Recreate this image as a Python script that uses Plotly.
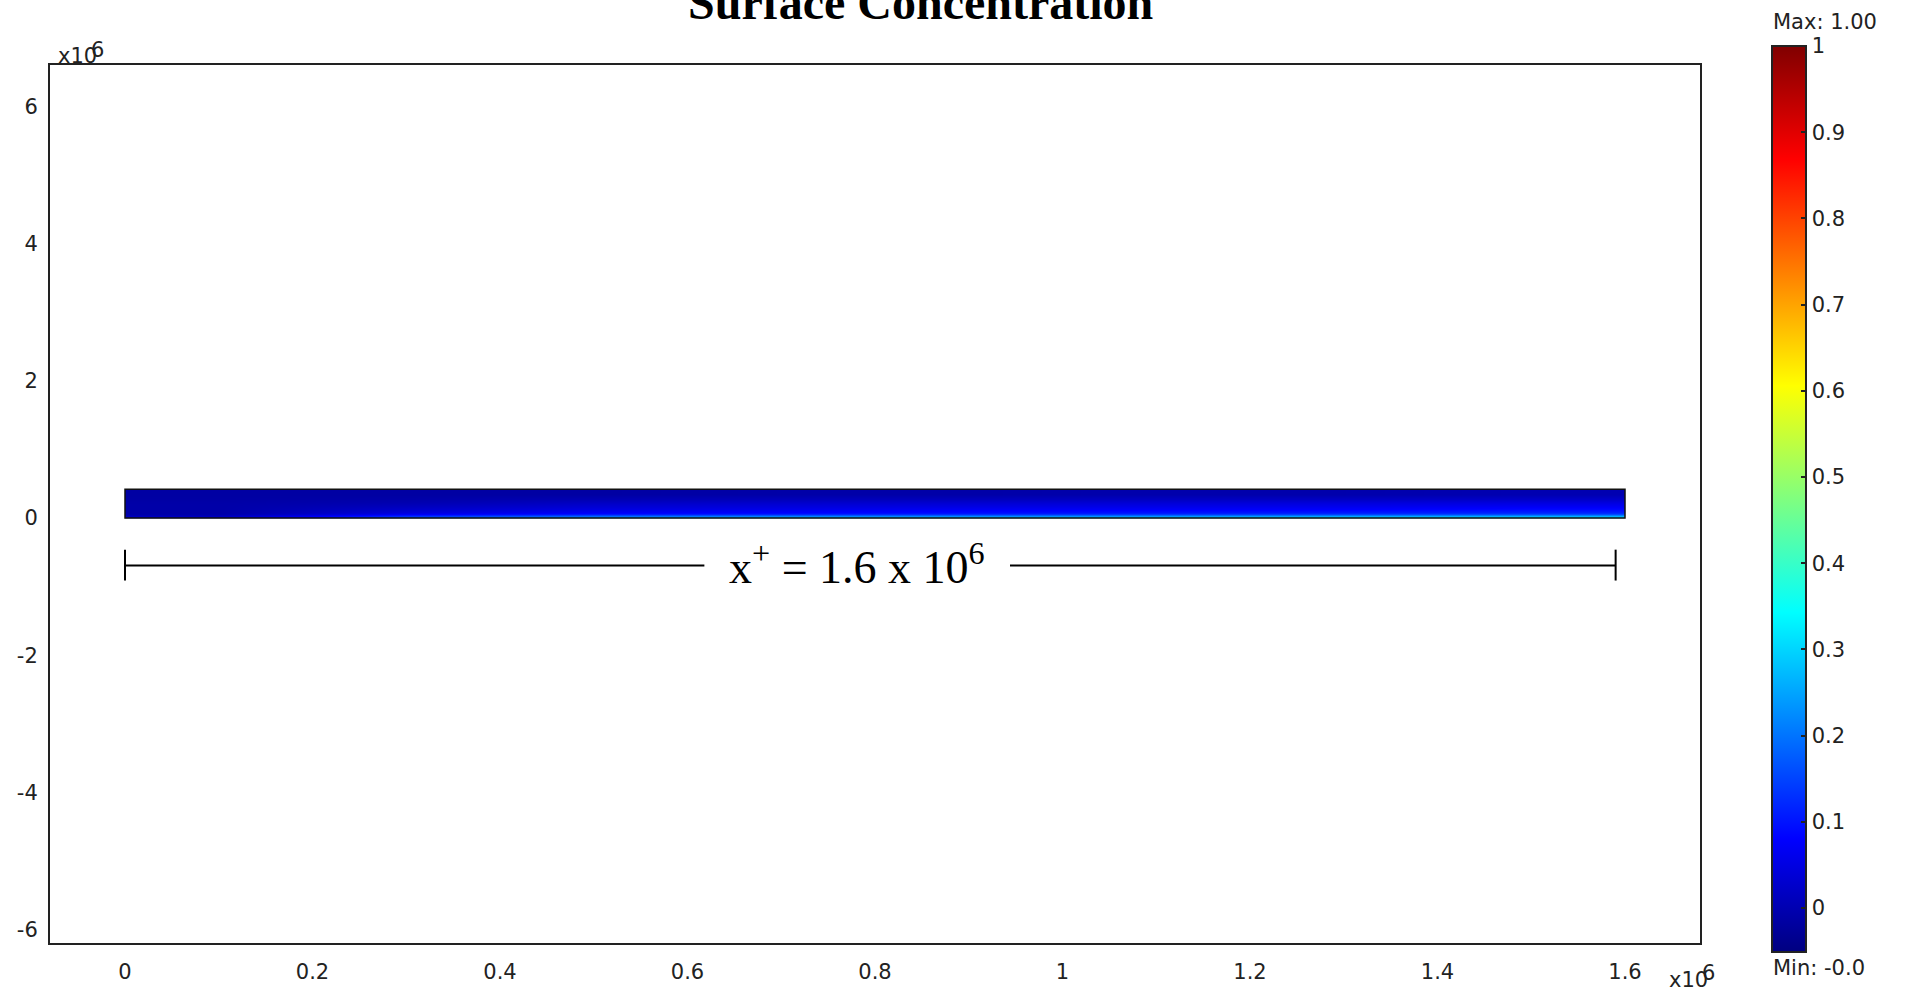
import plotly.graph_objects as go

# ---------------- data ----------------
x_edges = [0.0, 0.2, 0.4, 0.6, 0.8, 1.0, 1.2, 1.4, 1.6]          # x 10^6
y_edges = [0.0, 0.04, 0.09, 0.17, 0.28, 0.42]
conc = [
    [0.02, 0.15, 0.22, 0.25, 0.26, 0.27, 0.29, 0.30],     # bottom row
    [-0.01, 0.06, 0.09, 0.10, 0.11, 0.12, 0.13, 0.14],
    [-0.01, 0.025, 0.05, 0.06, 0.07, 0.075, 0.08, 0.09],
    [-0.01, 0.00, 0.02, 0.03, 0.035, 0.04, 0.045, 0.05],
    [-0.015, -0.015, -0.015, -0.01, -0.01, -0.005, -0.005, 0.0],  # top row
]
c_min, c_max = -0.051, 1.0
cbar_ticks = [0, 0.1, 0.2, 0.3, 0.4, 0.5, 0.6, 0.7, 0.8, 0.9, 1]
cbar_ticktext = ["0", "0.1", "0.2", "0.3", "0.4", "0.5", "0.6", "0.7", "0.8", "0.9", "1"]
x_ticks = [0, 0.2, 0.4, 0.6, 0.8, 1.0, 1.2, 1.4, 1.6]
x_ticktext = ["0", "0.2", "0.4", "0.6", "0.8", "1", "1.2", "1.4", "1.6"]
y_ticks = [-6, -4, -2, 0, 2, 4, 6]
y_ticktext = ["-6", "-4", "-2", "0", "2", "4", "6"]
dim_span = [0.0, 1.59]        # dimension line extent (x 10^6)
dim_gap = [0.618, 0.944]      # gap left for the label
dim_level = -0.69
dim_label = "x<sup>+</sup> = 1.6 x 10<sup>6</sup>"
dim_label_level = -0.67
title_text = "Surface Concentration"
max_text = "Max: 1.00"
min_text = "Min: -0.0"
exp_text = "x10"
exp_power = "6"

# ---------------- layout geometry ----------------
W, H = 1906, 991
L, R, T, B = 50, 1700, 65, 943


def pxx(x):
    return (x - L) / (R - L)


def pyy(y):
    return (B - y) / (B - T)


jet = [
    [0.0, "rgb(0,0,128)"],
    [0.125, "rgb(0,0,255)"],
    [0.375, "rgb(0,255,255)"],
    [0.625, "rgb(255,255,0)"],
    [0.875, "rgb(255,0,0)"],
    [1.0, "rgb(128,0,0)"],
]

tick_font = dict(family="DejaVu Sans", size=21, color="#222")

cb_left_px, cb_right_px, cb_top_px, cb_bot_px = 1772, 1806, 46, 952

fig = go.Figure()
fig.add_trace(go.Heatmap(
    x=x_edges, y=y_edges, z=conc,
    colorscale=jet, zmin=c_min, zmax=c_max, zsmooth="best",
    colorbar=dict(
        thickness=cb_right_px - cb_left_px,
        thicknessmode="pixels",
        len=cb_bot_px - cb_top_px, lenmode="pixels",
        x=pxx(cb_left_px), xanchor="left", xref="paper",
        y=pyy((cb_top_px + cb_bot_px) / 2), yanchor="middle", yref="paper",
        xpad=0, ypad=0,
        outlinewidth=2, outlinecolor="#222",
        tickvals=cbar_ticks, ticktext=cbar_ticktext,
        ticks="inside", ticklen=6, tickwidth=2, tickcolor="#222",
        tickfont=tick_font,
    ),
    showscale=True,
    hoverinfo="skip",
))

shapes = []
# outline of the domain
shapes.append(dict(type="rect", xref="x", yref="y",
                   x0=x_edges[0], x1=x_edges[-1], y0=y_edges[0], y1=y_edges[-1],
                   line=dict(color="#111", width=1.5)))
# dimension line
line_style = dict(color="black", width=2)
shapes.append(dict(type="line", xref="x", yref="y", x0=dim_span[0], x1=dim_gap[0],
                   y0=dim_level, y1=dim_level, line=line_style))
shapes.append(dict(type="line", xref="x", yref="y", x0=dim_gap[1], x1=dim_span[1],
                   y0=dim_level, y1=dim_level, line=line_style))
for xe in dim_span:
    shapes.append(dict(type="line", xref="x", yref="y", x0=xe, x1=xe,
                       y0=dim_level + 0.23, y1=dim_level - 0.22, line=line_style))
# left-side tick marks on the colour bar
for v in cbar_ticks[:-1]:
    ypx = cb_bot_px - (v - c_min) / (c_max - c_min) * (cb_bot_px - cb_top_px)
    shapes.append(dict(type="line", xref="paper", yref="paper",
                       x0=pxx(cb_left_px), x1=pxx(cb_left_px + 7),
                       y0=pyy(ypx), y1=pyy(ypx),
                       line=dict(color="#222", width=2)))

annotations = [
    dict(text="<b>" + title_text + "</b>", xref="paper", yref="paper",
         x=pxx(921), y=pyy(3), xanchor="center", yanchor="middle", showarrow=False,
         font=dict(family="Liberation Serif", size=48, color="black")),
    dict(text=dim_label, xref="x", yref="y", x=(dim_gap[0] + dim_gap[1]) / 2,
         y=dim_label_level, xanchor="center", yanchor="middle", showarrow=False,
         font=dict(family="Liberation Serif", size=46, color="black")),
    # exponent labels
    dict(text=exp_text, xref="paper", yref="paper", x=pxx(56), y=pyy(56),
         xanchor="left", yanchor="middle", showarrow=False, font=tick_font),
    dict(text=exp_power, xref="paper", yref="paper", x=pxx(97), y=pyy(50),
         xanchor="center", yanchor="middle", showarrow=False, font=tick_font),
    dict(text=exp_text, xref="paper", yref="paper", x=pxx(1667), y=pyy(980),
         xanchor="left", yanchor="middle", showarrow=False, font=tick_font),
    dict(text=exp_power, xref="paper", yref="paper", x=pxx(1708), y=pyy(973),
         xanchor="center", yanchor="middle", showarrow=False, font=tick_font),
    # colour bar extrema
    dict(text=max_text, xref="paper", yref="paper", x=pxx(1771), y=pyy(22),
         xanchor="left", yanchor="middle", showarrow=False, font=tick_font),
    dict(text=min_text, xref="paper", yref="paper", x=pxx(1771), y=pyy(968),
         xanchor="left", yanchor="middle", showarrow=False, font=tick_font),
]

fig.update_layout(
    width=W, height=H,
    margin=dict(l=L, r=W - R, t=T, b=H - B, pad=0, autoexpand=False),
    paper_bgcolor="white", plot_bgcolor="white",
    showlegend=False,
    shapes=shapes,
    annotations=annotations,
    xaxis=dict(range=[-0.08, 1.68], tickvals=x_ticks, ticktext=x_ticktext,
               showgrid=False, zeroline=False, showline=True, mirror=True,
               linecolor="#222", linewidth=2, ticks="", tickfont=tick_font,
               ticklabelstandoff=9, automargin=False),
    yaxis=dict(range=[-6.19, 6.6], tickvals=y_ticks, ticktext=y_ticktext,
               showgrid=False, zeroline=False, showline=True, mirror=True,
               linecolor="#222", linewidth=2, ticks="", tickfont=tick_font,
               ticklabelstandoff=6, automargin=False),
)

fig.write_html("out.html")
